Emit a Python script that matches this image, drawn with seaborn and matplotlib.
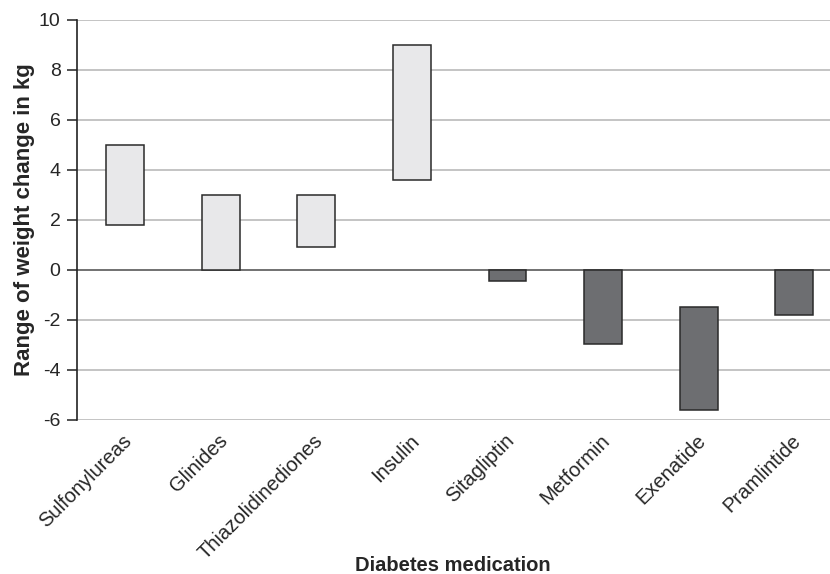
import pandas as pd
import seaborn as sns
import matplotlib
matplotlib.use('Agg')
import matplotlib.pyplot as plt
from matplotlib.transforms import ScaledTranslation

medications = ["Sulfonylureas", "Glinides", "Thiazolidinediones", "Insulin",
               "Sitagliptin", "Metformin", "Exenatide", "Pramlintide"]
range_low = [1.8, 0.0, 0.9, 3.6, -0.45, -2.95, -5.6, -1.8]
range_high = [5.0, 3.0, 3.0, 9.0, 0.0, 0.0, -1.5, 0.0]
gain = [True, True, True, True, False, False, False, False]
y_ticks = [-6, -4, -2, 0, 2, 4, 6, 8, 10]

df = pd.DataFrame({"medication": medications, "low": range_low, "high": range_high, "gain": gain})
df["span"] = df["high"] - df["low"]

sns.set_style("white")
plt.rcParams['font.family'] = ['Liberation Sans', 'DejaVu Sans']
plt.rcParams['axes.unicode_minus'] = False

fig = plt.figure(figsize=(8.3, 5.74), dpi=100)
ax = fig.add_axes([0.0931, 0.2683, 0.9214, 0.6969])

sns.barplot(data=df, x="medication", y="span", bottom=df["low"].values,
            color="#e8e8ea", saturation=1, width=0.395, ax=ax,
            edgecolor="#2a2a2a", linewidth=1.1, zorder=3)
for patch, g in zip(ax.patches, df["gain"]):
    patch.set_facecolor("#e8e8ea" if g else "#6d6e71")

ax.set_ylim(-6, 10)
ax.set_yticks(y_ticks)
for t in y_ticks:
    if t == 0:
        ax.axhline(t, color="#4a4a4a", lw=1.1, zorder=2)
    else:
        ax.axhline(t, color="#b4b4b4", lw=1.1, zorder=1)

for s in ["top", "right", "bottom"]:
    ax.spines[s].set_visible(False)
ax.spines["left"].set_color("#222222")
ax.spines["left"].set_linewidth(1.2)
ax.tick_params(axis="y", which="major", direction="out", length=7, width=1.1,
               color="#222222", labelsize=14, left=True, pad=5)
ax.tick_params(axis="x", length=0, labelsize=14.5, pad=15)

# nudge the slanted names a little right/up, like the original
nudge = ScaledTranslation(4 / 100, 3 / 100, fig.dpi_scale_trans)
for lab in ax.get_xticklabels():
    lab.set_rotation(45)
    lab.set_ha("right")
    lab.set_va("center")
    lab.set_rotation_mode("anchor")
    lab.set_transform(lab.get_transform() + nudge)

ax.set_ylabel("Range of weight change in kg", fontsize=16, fontweight="bold", labelpad=3)
ax.set_xlabel("Diabetes medication", fontsize=14.5, fontweight="bold")
ax.xaxis.set_label_coords((453 - 77.3) / 764.7, -0.34)

fig.savefig("out.png", dpi=100)
